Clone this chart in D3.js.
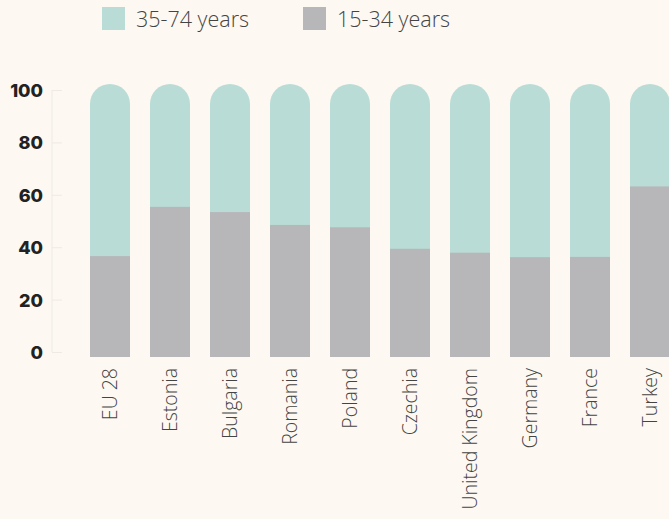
<!DOCTYPE html>
<html><head><meta charset="utf-8">
<script src="https://cdn.jsdelivr.net/npm/d3@7"></script>
<style>
html,body{margin:0;padding:0;background:#fdf9f2;}
svg{display:block;}
</style></head>
<body>
<svg id="chart" width="669" height="519"></svg>
<script>
const categories = ["EU 28","Estonia","Bulgaria","Romania","Poland","Czechia","United Kingdom","Germany","France","Turkey"];
const young = [36.6,55.4,53.4,48.5,47.6,39.4,37.9,36.2,36.3,63.2];   // 15-34 years
const older = young.map(v => 100 - v);                                // 35-74 years (remainder to 100)
const yTicks = [0,20,40,60,80,100];
const seriesNames = ["35-74 years","15-34 years"];
const colors = {"35-74 years":"#badcd6","15-34 years":"#b7b6b9"};

const svg = d3.select("#chart");
const font = "'Open Sans', 'Noto Sans', sans-serif";

const x = d3.scaleBand().domain(categories).range([80,680]).paddingInner(1/3).paddingOuter(1/6);
const y = d3.scaleLinear().domain([0,100]).range([352,90]);

// y axis
const yAxis = svg.append("g").attr("transform","translate(62,0)")
  .call(d3.axisLeft(y).tickValues(yTicks).tickSize(10).tickPadding(9));
yAxis.select(".domain").attr("stroke","#eeeae4").attr("d","M-10,"+y(100)+"V"+y(0));
yAxis.selectAll(".tick line").attr("stroke","#eeeae4");
yAxis.selectAll(".tick text").attr("fill","#222").attr("font-family","Inter, 'DejaVu Sans', sans-serif")
  .attr("font-weight",800).attr("font-size",18).attr("dy","0.36em");

// bars
const bw = x.bandwidth(), r = bw/2;
const bottomY = y(0) + 5, topY = y(100) - 6;
const g = svg.append("g");
categories.forEach((c,i) => {
  const x0 = x(c);
  const path = d3.path();
  path.moveTo(x0, bottomY);
  path.lineTo(x0, topY + r);
  path.arc(x0 + r, topY + r, r, Math.PI, 0);
  path.lineTo(x0 + bw, bottomY);
  path.closePath();
  g.append("path").attr("d", path.toString()).attr("fill", colors["35-74 years"]);
  g.append("rect").attr("x", x0).attr("width", bw)
    .attr("y", y(young[i])).attr("height", bottomY - y(young[i]))
    .attr("fill", colors["15-34 years"]);
});

// x labels
svg.append("g").selectAll("text").data(categories).join("text")
  .attr("transform", d => `translate(${x(d)+bw/2+7},368) rotate(-90)`)
  .attr("text-anchor","end")
  .attr("font-family", font).attr("font-size",19.5).attr("font-weight",300)
  .attr("fill","#444").text(d => d);

// legend
const legend = svg.append("g");
const lx = [102, 303];
seriesNames.forEach((s,i) => {
  legend.append("rect").attr("x", lx[i]).attr("y",7).attr("width",23).attr("height",23).attr("fill",colors[s]);
  legend.append("text").attr("x", lx[i]+34).attr("y",26.5)
    .attr("font-family", font).attr("font-size",21.5).attr("font-weight",300)
    .attr("fill","#444").text(s);
});
</script>
</body></html>
